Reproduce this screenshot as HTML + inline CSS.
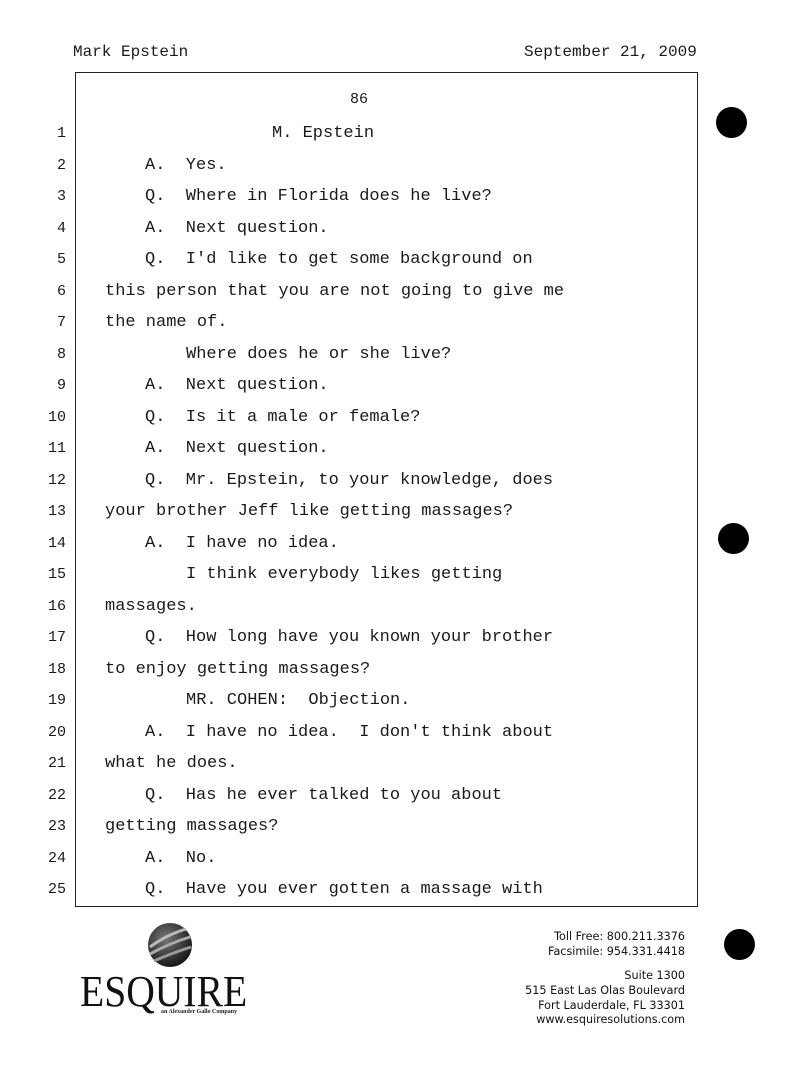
<!DOCTYPE html>
<html><head><meta charset="utf-8"><style>
html,body{margin:0;padding:0;background:#fff;}
body{width:788px;height:1079px;position:relative;overflow:hidden;font-family:"Liberation Mono",monospace;color:#1a1a1a;}
.a{position:absolute;white-space:pre;}
.hd{font-size:16px;top:43px;}
.box{position:absolute;left:75px;top:72px;width:623px;height:835px;border:1.5px solid #222;box-sizing:border-box;}
.ln{position:absolute;font-size:17px;line-height:20px;white-space:pre;}
.num{position:absolute;font-size:15px;line-height:20px;width:30px;text-align:right;left:36px;}
.dot{position:absolute;width:31px;height:31px;border-radius:50%;background:#000;}
.ft{position:absolute;right:103px;font-family:"DejaVu Sans","Liberation Sans",sans-serif;font-size:11.2px;line-height:14.8px;text-align:right;color:#111;}
</style></head><body>
<div class="a hd" style="left:73px">Mark Epstein</div>
<div class="a hd" style="left:524px">September 21, 2009</div>
<div class="box"></div>
<div class="ln" style="left:350px;top:90px;font-size:15px">86</div>
<div id="t"></div>
<div class="dot" style="left:716px;top:107px"></div>
<div class="dot" style="left:718px;top:523px"></div>
<div class="dot" style="left:724px;top:929px"></div>
<svg style="position:absolute;left:146px;top:921px" width="48" height="48" viewBox="0 0 48 48">
<defs><radialGradient id="g" cx="40%" cy="35%" r="70%"><stop offset="0" stop-color="#777"/><stop offset="1" stop-color="#111"/></radialGradient></defs>
<circle cx="24" cy="24" r="22" fill="url(#g)"/>
<path d="M4 26 Q20 14 40 8" stroke="#bbb" stroke-width="3" fill="none"/>
<path d="M4 33 Q24 22 44 16" stroke="#aaa" stroke-width="3" fill="none"/>
<path d="M8 40 Q26 32 45 26" stroke="#999" stroke-width="3" fill="none"/>
</svg>
<div class="a" style="left:80px;top:970px;font-family:'Liberation Serif',serif;font-size:44px;line-height:44px;color:#111;transform:scaleX(0.9);transform-origin:left top">ESQUIRE</div>
<div class="a" style="left:161px;top:1009px;font-family:'Liberation Serif',serif;font-size:6px;font-weight:bold;color:#222">an Alexander Gallo Company</div>
<div class="ft" style="top:930px">Toll Free: 800.211.3376<br>Facsimile: 954.331.4418</div>
<div class="ft" style="top:969px">Suite 1300<br>515 East Las Olas Boulevard<br>Fort Lauderdale, FL 33301<br>www.esquiresolutions.com</div>
<script>
var L=[
[272,"M. Epstein"],[145,"A.  Yes."],[145,"Q.  Where in Florida does he live?"],[145,"A.  Next question."],
[145,"Q.  I'd like to get some background on"],[105,"this person that you are not going to give me"],[105,"the name of."],
[186,"Where does he or she live?"],[145,"A.  Next question."],[145,"Q.  Is it a male or female?"],[145,"A.  Next question."],
[145,"Q.  Mr. Epstein, to your knowledge, does"],[105,"your brother Jeff like getting massages?"],[145,"A.  I have no idea."],
[186,"I think everybody likes getting"],[105,"massages."],[145,"Q.  How long have you known your brother"],
[105,"to enjoy getting massages?"],[186,"MR. COHEN:  Objection."],[145,"A.  I have no idea.  I don't think about"],
[105,"what he does."],[145,"Q.  Has he ever talked to you about"],[105,"getting massages?"],[145,"A.  No."],
[145,"Q.  Have you ever gotten a massage with"]];
var h="";
for(var i=0;i<25;i++){var y=(134+i*31.5-10).toFixed(1);
h+='<div class="num" style="top:'+y+'px">'+(i+1)+'</div><div class="ln" style="left:'+L[i][0]+'px;top:'+y+'px">'+L[i][1]+'</div>';}
document.getElementById("t").innerHTML=h;
</script>
</body></html>
